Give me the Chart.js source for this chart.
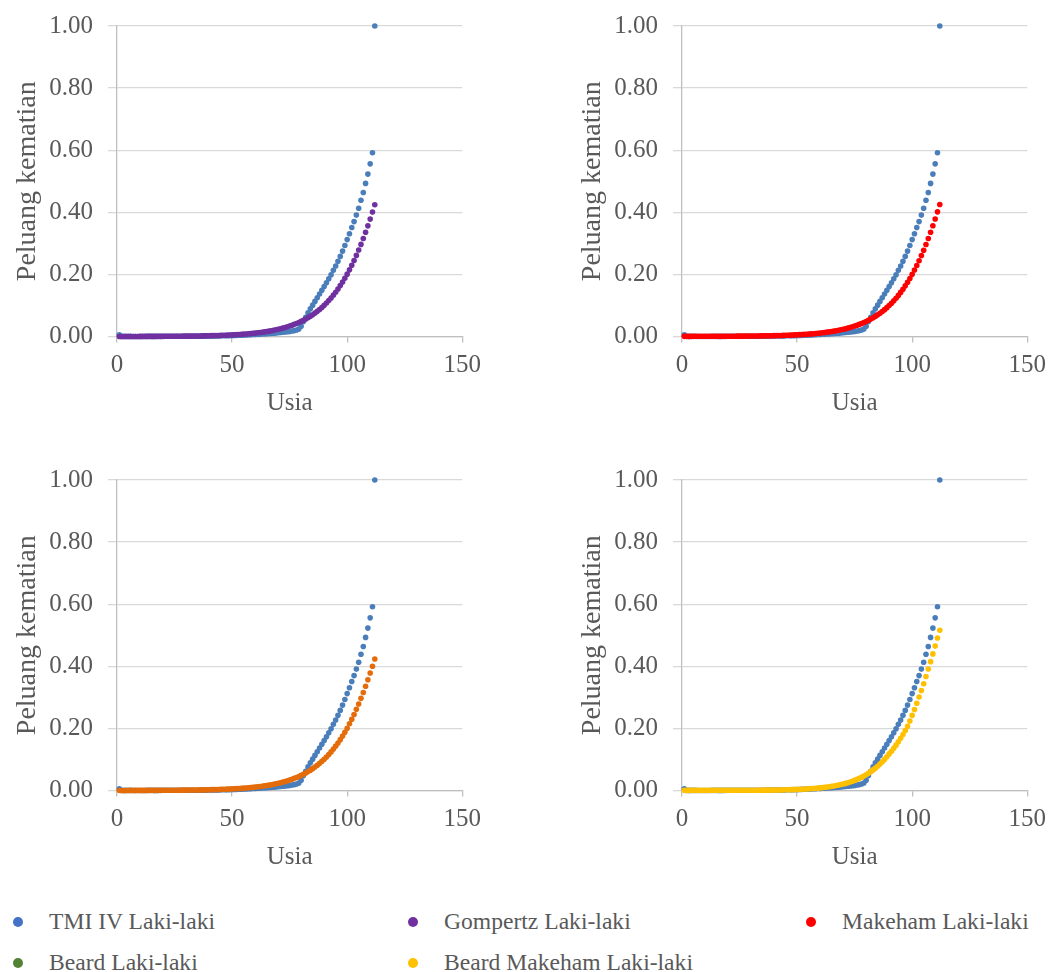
<!DOCTYPE html>
<html>
<head>
<meta charset="utf-8">
<script src="https://cdn.jsdelivr.net/npm/chart.js@4.4.0/dist/chart.umd.min.js"></script>
<style>
html,body{margin:0;padding:0;background:#fff;}
body{width:1051px;height:972px;overflow:hidden;position:relative;font-family:"Liberation Serif","Times New Roman",Times,"DejaVu Serif",serif;}
canvas{position:absolute;}
.mk{position:absolute;width:10px;height:10px;border-radius:50%;}
.tx{position:absolute;font-size:23.6px;line-height:26px;color:#595959;white-space:nowrap;font-family:"Liberation Serif","Times New Roman",Times,"DejaVu Serif",serif;}
</style>
</head>
<body>
<canvas id="c1" width="489" height="454" style="left:0px;top:-4px"></canvas>
<canvas id="c2" width="489" height="454" style="left:565px;top:-4px"></canvas>
<canvas id="c3" width="489" height="454" style="left:0px;top:450px"></canvas>
<canvas id="c4" width="489" height="454" style="left:565px;top:450px"></canvas>
<div id="legend"></div>
<script>
// x values (Usia)
const ages = [1,2,3,4,5,6,7,8,9,10,11,12,13,14,15,16,17,18,19,20,
21,22,23,24,25,26,27,28,29,30,31,32,33,34,35,36,37,38,39,40,
41,42,43,44,45,46,47,48,49,50,51,52,53,54,55,56,57,58,59,60,
61,62,63,64,65,66,67,68,69,70,71,72,73,74,75,76,77,78,79,80,
81,82,83,84,85,86,87,88,89,90,91,92,93,94,95,96,97,98,99,100,
101,102,103,104,105,106,107,108,109,110,111,112];

const tmiIV = [0.0052,0.0005,0.0004,0.0003,0.0003,0.0003,0.0002,0.0002,0.0002,0.0002,
0.0002,0.0002,0.0003,0.0003,0.0003,0.0004,0.0004,0.0005,0.0005,0.0006,
0.0006,0.0006,0.0006,0.0006,0.0007,0.0007,0.0007,0.0007,0.0007,0.0008,
0.0008,0.0008,0.0009,0.0009,0.0010,0.0010,0.0011,0.0012,0.0013,0.0014,
0.0015,0.0016,0.0018,0.0019,0.0021,0.0023,0.0025,0.0027,0.0029,0.0032,
0.0034,0.0037,0.0040,0.0043,0.0047,0.0050,0.0054,0.0058,0.0062,0.0066,
0.0071,0.0075,0.0080,0.0085,0.0090,0.0096,0.0102,0.0108,0.0114,0.0121,
0.0128,0.0136,0.0144,0.0153,0.0163,0.0175,0.0190,0.0210,0.0240,0.0330,
0.0480,0.0620,0.0760,0.0890,0.1010,0.1130,0.1250,0.1370,0.1490,0.1610,
0.1730,0.1860,0.1990,0.2130,0.2270,0.2420,0.2580,0.2750,0.2930,0.3120,
0.3310,0.3510,0.3700,0.3910,0.4130,0.4390,0.4640,0.4930,0.5230,0.5560,
0.5920,1.0000];

const gompertz = [0.00013,0.00014,0.00015,0.00017,0.00018,0.00019,0.00021,0.00022,0.00024,0.00026,
0.00028,0.00030,0.00033,0.00035,0.00038,0.00041,0.00044,0.00047,0.00051,0.00055,
0.00059,0.00064,0.00069,0.00074,0.00080,0.00086,0.00093,0.00100,0.00108,0.00117,
0.00126,0.00136,0.00146,0.00158,0.00170,0.00183,0.00197,0.00213,0.00229,0.00247,
0.0027,0.0029,0.0031,0.0033,0.0036,0.0039,0.0042,0.0045,0.0049,0.0052,
0.0056,0.0061,0.0065,0.0070,0.0076,0.0082,0.0088,0.0095,0.0102,0.0110,
0.0119,0.0128,0.0138,0.0149,0.0161,0.0173,0.0186,0.0201,0.0217,0.0233,
0.0251,0.0270,0.0291,0.0313,0.0337,0.0363,0.0391,0.0421,0.0452,0.0487,
0.0524,0.0564,0.0607,0.0652,0.0701,0.0754,0.0810,0.0871,0.0935,0.1004,
0.1078,0.1156,0.1241,0.1332,0.1427,0.1530,0.1639,0.1754,0.1878,0.2008,
0.2147,0.2293,0.2448,0.2612,0.2784,0.2966,0.3156,0.3356,0.3564,0.3781,
0.4007,0.4242];

const makeham = [0.00053,0.00054,0.00055,0.00056,0.00057,0.00058,0.00059,0.00060,0.00062,0.00063,
0.00065,0.00067,0.00069,0.00071,0.00073,0.00076,0.00079,0.00082,0.00085,0.00089,
0.00093,0.00097,0.00102,0.00107,0.00112,0.00118,0.00125,0.00132,0.00140,0.00148,
0.00157,0.00166,0.00177,0.00188,0.00200,0.00213,0.00227,0.00242,0.00258,0.00276,
0.0030,0.0032,0.0034,0.0036,0.0039,0.0042,0.0045,0.0048,0.0051,0.0055,
0.0059,0.0063,0.0068,0.0073,0.0078,0.0084,0.0090,0.0097,0.0104,0.0112,
0.0121,0.0130,0.0140,0.0150,0.0162,0.0174,0.0187,0.0202,0.0217,0.0234,
0.0252,0.0271,0.0291,0.0313,0.0337,0.0362,0.0390,0.0419,0.0451,0.0485,
0.0521,0.0561,0.0603,0.0648,0.0697,0.0749,0.0805,0.0865,0.0929,0.0998,
0.1071,0.1150,0.1234,0.1324,0.1420,0.1522,0.1631,0.1747,0.1870,0.2001,
0.2140,0.2287,0.2442,0.2607,0.2780,0.2963,0.3155,0.3357,0.3567,0.3786,
0.4014,0.4250];

const beard = [0.00020,0.00021,0.00022,0.00023,0.00024,0.00025,0.00027,0.00028,0.00030,0.00032,
0.00034,0.00036,0.00038,0.00041,0.00044,0.00047,0.00050,0.00053,0.00057,0.00061,
0.00065,0.00070,0.00075,0.00080,0.00086,0.00092,0.00099,0.00106,0.00114,0.00122,
0.00131,0.00141,0.00151,0.00163,0.00175,0.00188,0.00202,0.00217,0.00233,0.00251,
0.0027,0.0029,0.0031,0.0034,0.0036,0.0039,0.0042,0.0045,0.0049,0.0052,
0.0056,0.0061,0.0065,0.0070,0.0076,0.0082,0.0088,0.0095,0.0102,0.0110,
0.0119,0.0128,0.0138,0.0149,0.0160,0.0173,0.0186,0.0201,0.0216,0.0233,
0.0251,0.0270,0.0291,0.0313,0.0337,0.0363,0.0391,0.0421,0.0453,0.0488,
0.0525,0.0565,0.0608,0.0654,0.0703,0.0756,0.0813,0.0874,0.0938,0.1007,
0.1081,0.1159,0.1243,0.1333,0.1428,0.1530,0.1638,0.1752,0.1873,0.2001,
0.2150,0.2296,0.2450,0.2614,0.2786,0.2967,0.3157,0.3357,0.3566,0.3783,
0.4003,0.4235];

const beardMakeham = [0.00050,0.00050,0.00051,0.00051,0.00052,0.00052,0.00053,0.00053,0.00054,0.00055,
0.00056,0.00057,0.00058,0.00059,0.00060,0.00061,0.00062,0.00064,0.00065,0.00067,
0.00068,0.00070,0.00072,0.00074,0.00076,0.00078,0.00080,0.00083,0.00086,0.00089,
0.00092,0.00096,0.00100,0.00104,0.00109,0.00115,0.00121,0.00128,0.00136,0.00145,
0.0016,0.0018,0.0019,0.0021,0.0023,0.0025,0.0027,0.0029,0.0032,0.0035,
0.0038,0.0042,0.0046,0.0050,0.0054,0.0059,0.0065,0.0071,0.0078,0.0085,
0.0093,0.0102,0.0112,0.0122,0.0134,0.0146,0.0159,0.0175,0.0191,0.0209,
0.0228,0.0250,0.0273,0.0298,0.0327,0.0357,0.0390,0.0427,0.0466,0.0509,
0.0556,0.0607,0.0663,0.0720,0.0783,0.0850,0.0923,0.1001,0.1086,0.1178,
0.1266,0.1360,0.1461,0.1568,0.1682,0.1803,0.1933,0.2070,0.2240,0.2420,
0.2610,0.2810,0.3010,0.3220,0.3440,0.3670,0.3910,0.4150,0.4400,0.4650,
0.4910,0.5160];

const yTicks = [0, 0.2, 0.4, 0.6, 0.8, 1.0];
const xTicks = [0, 50, 100, 150];

const FONT = '"Liberation Serif", "Times New Roman", Times, "DejaVu Serif", serif';
const TXT = '#595959';
const BLUE = '#4a7ebb';

function pts(arr){ return ages.map((a,i)=>({x:a, y:arr[i]})); }

function makeChart(id, series, color, label){
  new Chart(document.getElementById(id), {
    type: 'scatter',
    data: { datasets: [
      { label: label, data: pts(series), backgroundColor: color, borderColor: color,
        pointRadius: 2.8, borderWidth: 0, clip: false },
      { label: 'TMI IV Laki-laki', data: pts(tmiIV), backgroundColor: BLUE, borderColor: BLUE,
        pointRadius: 2.8, borderWidth: 0, clip: false }
    ]},
    options: {
      responsive: false, animation: false, events: [],
      font: { family: FONT },
      layout: { padding: { left: 0, right: 0, top: 10, bottom: 23.5 } },
      plugins: { legend: { display: false }, tooltip: { enabled: false } },
      scales: {
        x: {
          type: 'linear', min: xTicks[0], max: xTicks[xTicks.length-1],
          afterBuildTicks(s){ s.ticks = xTicks.map(v=>({value:v})); },
          ticks: { color: TXT, font: { family: FONT, size: 25 }, padding: 8, maxRotation: 0 },
          grid: { drawOnChartArea: false, drawTicks: true, tickLength: 6, color: '#bfbfbf', tickColor: '#bfbfbf', lineWidth: 1.3 },
          border: { color: '#bfbfbf', width: 1.3 },
          title: { display: true, text: 'Usia', color: TXT, font: { family: FONT, size: 25 }, padding: { top: 0, bottom: 8 } },
          afterFit(s){ s.height = 90; }
        },
        y: {
          type: 'linear', min: 0, max: 1,
          afterBuildTicks(s){ s.ticks = yTicks.map(v=>({value:v})); },
          ticks: { color: TXT, font: { family: FONT, size: 25 }, padding: 15, callback: v => Number(v).toFixed(2) },
          grid: { color: '#d9d9d9', lineWidth: 1.3, tickLength: 9 },
          border: { color: '#bfbfbf', width: 1.3 },
          title: { display: true, text: 'Peluang kematian', color: TXT, font: { family: FONT, size: 28 }, padding: { top: 11, bottom: 0 } },
          afterFit(s){ s.width = 117; }
        }
      }
    }
  });
}

function start(){
  makeChart('c1', gompertz, '#7030a0', 'Gompertz Laki-laki');
  makeChart('c2', makeham, '#ff0000', 'Makeham Laki-laki');
  makeChart('c3', beard, '#e46c0a', 'Beard Laki-laki');
  makeChart('c4', beardMakeham, '#ffc000', 'Beard Makeham Laki-laki');
}

// legend
const legendLabels = ['TMI IV Laki-laki','Gompertz Laki-laki','Makeham Laki-laki','Beard Laki-laki','Beard Makeham Laki-laki'];
const legendColors = ['#4472c4','#7030a0','#ff0000','#548235','#ffc000'];
const legendPos = [[18,922],[413,922],[811,922],[18,963],[413,963]];
const lg = document.getElementById('legend');
legendLabels.forEach((t,i)=>{
  const [cx,cy] = legendPos[i];
  const m = document.createElement('div');
  m.className='mk'; m.style.background=legendColors[i];
  m.style.left=(cx-5)+'px'; m.style.top=(cy-5)+'px';
  lg.appendChild(m);
  const s = document.createElement('div');
  s.className='tx'; s.textContent=t;
  s.style.left=(cx+31)+'px'; s.style.top=(cy-14)+'px';
  lg.appendChild(s);
});

if (document.fonts && document.fonts.load) {
  Promise.all([document.fonts.load('25px "Liberation Serif"'), document.fonts.load('25px "Times New Roman"')]).then(start, start);
} else { start(); }
</script>
</body>
</html>
